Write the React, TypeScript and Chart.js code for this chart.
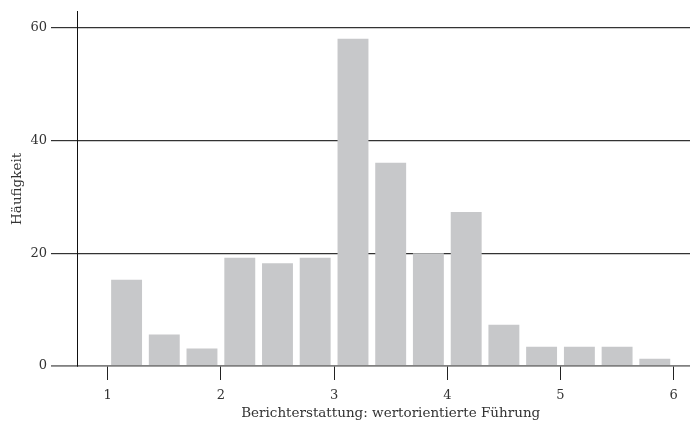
import React, { useEffect, useRef } from "react";
import { Chart, registerables } from "chart.js";

Chart.register(...registerables);

// Bin centres of the histogram (bins of width 1/3 from 1 to 6)
const binCenters = [1.167, 1.5, 1.833, 2.167, 2.5, 2.833, 3.167, 3.5, 3.833, 4.167, 4.5, 4.833, 5.167, 5.5, 5.833];
const frequencies = [15.3, 5.6, 3.1, 19.2, 18.2, 19.2, 58, 36, 20, 27.3, 7.3, 3.4, 3.4, 3.4, 1.3];
const xTickValues = [1, 2, 3, 4, 5, 6];
const yTickValues = [0, 20, 40, 60];
const xTitle = "Berichterstattung: wertorientierte Führung";
const yTitle = "Häufigkeit";

const FONT = "'DejaVu Serif', serif";

export default function App() {
  const ref = useRef<HTMLCanvasElement | null>(null);

  useEffect(() => {
    if (!ref.current) return;
    const xTitlePlugin = {
      id: "xTitlePlugin",
      afterDraw(chart: any) {
        const ctx = chart.ctx;
        const xs = chart.scales.x;
        ctx.save();
        ctx.font = `13.5px ${FONT}`;
        ctx.fillStyle = "#333";
        ctx.textAlign = "center";
        ctx.textBaseline = "middle";
        ctx.fillText(xTitle, xs.getPixelForValue(3.5), xs.bottom - 15);
        ctx.restore();
      },
    };
    const chart = new Chart(ref.current, {
      type: "bar",
      data: {
        datasets: [
          {
            data: binCenters.map((x, i) => ({ x, y: frequencies[i] })),
            backgroundColor: "#c7c8ca",
            borderWidth: 0,
            barPercentage: 0.82,
            categoryPercentage: 1,
          },
        ],
      },
      options: {
        animation: false,
        responsive: false,
        events: [],
        layout: { padding: { top: 10, left: 0, right: 0, bottom: 0 } },
        plugins: { legend: { display: false }, tooltip: { enabled: false } },
        scales: {
          x: {
            type: "linear",
            min: 0.729,
            max: 6.144,
            offset: false,
            afterFit: (s: any) => {
              s.height = 62;
            },
            afterBuildTicks: (s: any) => {
              s.ticks = xTickValues.map((v) => ({ value: v }));
            },
            grid: {
              offset: false,
              drawOnChartArea: false,
              drawTicks: true,
              tickLength: 14,
              color: "#222",
              lineWidth: 1,
            },
            border: { display: false },
            ticks: {
              autoSkip: false,
              maxRotation: 0,
              padding: 8,
              color: "#333",
              font: { family: FONT, size: 13 },
            },
          },
          y: {
            min: 0,
            max: 62.77,
            afterFit: (s: any) => {
              s.width = 77;
            },
            afterBuildTicks: (s: any) => {
              s.ticks = yTickValues.map((v) => ({ value: v }));
            },
            grid: {
              drawOnChartArea: true,
              drawTicks: true,
              tickLength: 26,
              color: (c: any) => (c.tick && c.tick.value === 0 ? "#808080" : "#333"),
              lineWidth: (c: any) => (c.tick && c.tick.value === 0 ? 1.8 : 1.2),
            },
            border: { display: true, color: "#111", width: 1 },
            ticks: {
              padding: 4,
              color: "#333",
              font: { family: FONT, size: 13 },
            },
            title: {
              display: true,
              text: yTitle,
              color: "#333",
              font: { family: FONT, size: 13.5 },
              padding: { top: 9, bottom: 0 },
            },
          },
        },
      },
      plugins: [xTitlePlugin],
    });
    return () => chart.destroy();
  }, []);

  return (
    <div style={{ position: "fixed", left: 0, top: 0, width: 690, height: 428, background: "#fff" }}>
      <canvas ref={ref} width={690} height={428} style={{ width: 690, height: 428 }} />
    </div>
  );
}
